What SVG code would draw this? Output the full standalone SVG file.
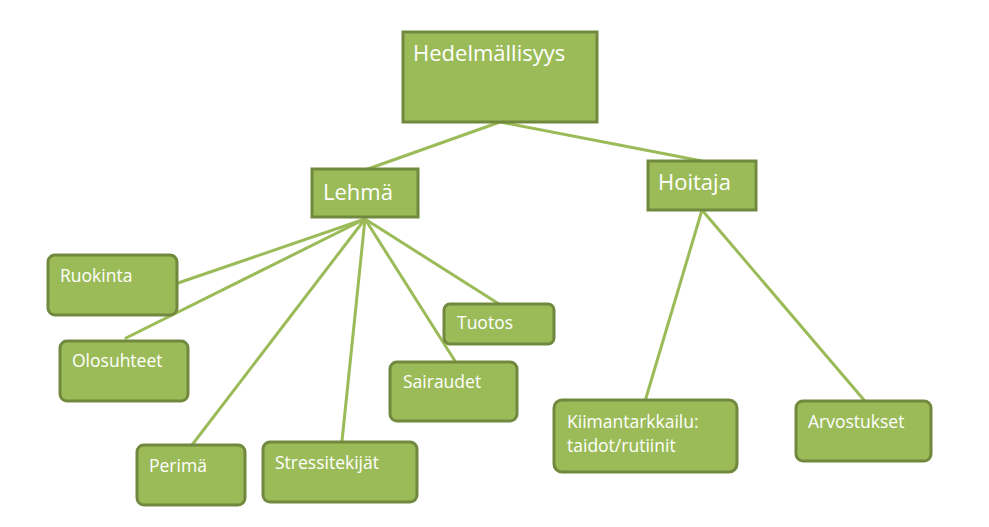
<svg xmlns="http://www.w3.org/2000/svg" width="989" height="527" viewBox="0 0 989 527">
<style>
.box{fill:#9BBB59;stroke:#71893F;stroke-width:3}
.big{font-family:"Open Sans","Liberation Sans",sans-serif;font-size:22px;fill:#fff}
.sm{font-family:"Open Sans","Liberation Sans",sans-serif;font-size:17.5px;fill:#fff}
.con line{stroke:#9BBB59;stroke-width:3;stroke-linecap:round}
</style>
<rect width="989" height="527" fill="#fff"/>
<g class="con" id="connectors">
<line x1="500" y1="122" x2="365" y2="170"/>
<line x1="500" y1="122" x2="702" y2="161"/>
<line x1="365" y1="219" x2="178" y2="283"/>
<line x1="365" y1="219" x2="126" y2="338"/>
<line x1="365" y1="219" x2="192" y2="445"/>
<line x1="365" y1="219" x2="342" y2="441"/>
<line x1="365" y1="219" x2="455" y2="361"/>
<line x1="365" y1="219" x2="499" y2="304"/>
<line x1="702" y1="210" x2="646" y2="398"/>
<line x1="702" y1="210" x2="864" y2="400"/>
</g>
<g id="hedelmallisyys"><rect class="box" x="403" y="32" width="194" height="90"/><text class="big" x="413" y="61">Hedelmällisyys</text></g>
<g id="lehma"><rect class="box" x="312" y="169" width="106" height="48"/><text class="big" x="323" y="200">Lehmä</text></g>
<g id="hoitaja"><rect class="box" x="648" y="161" width="108" height="49"/><text class="big" x="658" y="190">Hoitaja</text></g>
<g id="ruokinta"><rect class="box" x="48" y="255" width="129" height="60" rx="7"/><text class="sm" x="60" y="282">Ruokinta</text></g>
<g id="olosuhteet"><rect class="box" x="60" y="341" width="128" height="60" rx="7"/><text class="sm" x="72" y="367">Olosuhteet</text></g>
<g id="perima"><rect class="box" x="137" y="445" width="108" height="60" rx="7"/><text class="sm" x="149" y="472">Perimä</text></g>
<g id="stressitekijat"><rect class="box" x="263" y="442" width="154" height="60" rx="7"/><text class="sm" x="275" y="469">Stressitekijät</text></g>
<g id="tuotos"><rect class="box" x="444" y="304" width="110" height="40" rx="6"/><text class="sm" x="457" y="329">Tuotos</text></g>
<g id="sairaudet"><rect class="box" x="390" y="362" width="127" height="59" rx="7"/><text class="sm" x="403" y="388">Sairaudet</text></g>
<g id="kiimantarkkailu"><rect class="box" x="554" y="400" width="183" height="72" rx="8"/><text class="sm" x="567" y="428">Kiimantarkkailu:</text><text class="sm" x="567" y="452">taidot/rutiinit</text></g>
<g id="arvostukset"><rect class="box" x="796" y="401" width="135" height="60" rx="7"/><text class="sm" x="808" y="428">Arvostukset</text></g>
</svg>
